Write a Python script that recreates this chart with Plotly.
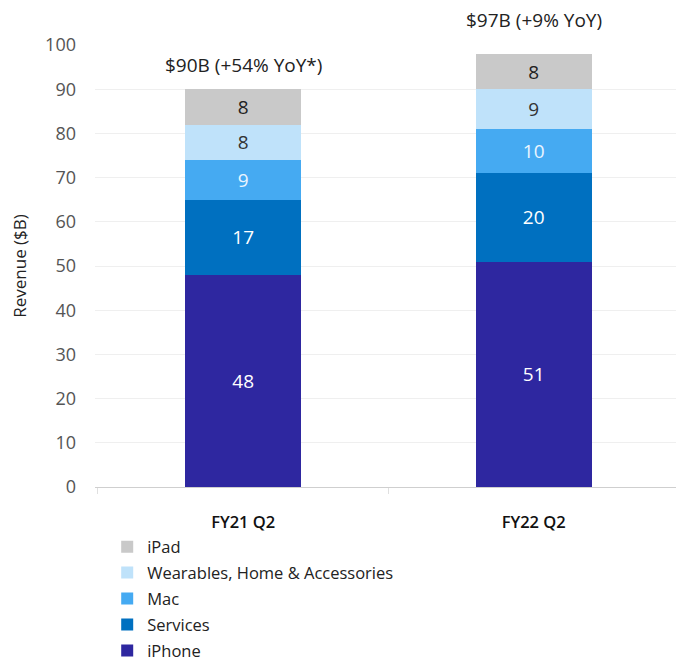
import plotly.graph_objects as go

categories = ["FY21 Q2", "FY22 Q2"]
series_names = ["iPhone", "Services", "Mac", "Wearables, Home & Accessories", "iPad"]
iphone = [48, 51]
services = [17, 20]
mac = [9, 10]
wearables = [8, 9]
ipad = [8, 8]
totals_text = ["$90B (+54% YoY*)", "$97B (+9% YoY)"]
y_ticks = [0, 10, 20, 30, 40, 50, 60, 70, 80, 90, 100]

series_values = [iphone, services, mac, wearables, ipad]
colors = ["#2E27A0", "#0070C0", "#45AAF2", "#BFE2FA", "#C9C9C9"]
text_colors = ["#FFFFFF", "#FFFFFF", "#EAF5FF", "#333333", "#222222"]

FONT = "Open Sans"

fig = go.Figure()
n = len(series_names)
for i, (name, vals, col, tc) in enumerate(zip(series_names, series_values, colors, text_colors)):
    fig.add_trace(go.Bar(
        x=categories, y=vals, name=name, legendgroup=name,
        legendrank=n - i,
        marker=dict(color=col, line=dict(width=0)),
        text=[str(v) for v in vals], textposition="inside",
        insidetextanchor="middle",
        textfont=dict(color=tc, size=19, family=FONT),
        width=0.4,
    ))

totals = [sum(v[i] for v in series_values) for i in range(len(categories))]
shifts = [24, 34]
for cat, tot, txt, sh in zip(categories, totals, totals_text, shifts):
    fig.add_annotation(x=cat, y=tot, text=txt, showarrow=False,
                       yanchor="middle", yshift=sh,
                       font=dict(size=19, color="#222222", family=FONT))

fig.update_layout(
    width=676, height=661,
    margin=dict(l=95, r=0, t=45, b=174, autoexpand=False),
    barmode="stack",
    plot_bgcolor="white", paper_bgcolor="white",
    font=dict(family=FONT, color="#333333"),
    uniformtext=dict(minsize=8, mode="show"),
    legend=dict(
        orientation="v", traceorder="grouped",
        x=0.021, xanchor="left", y=-0.096, yanchor="top",
        font=dict(size=16.5, color="#222222", family=FONT),
        tracegroupgap=1.5,
        bgcolor="rgba(0,0,0,0)",
    ),
    xaxis=dict(
        range=[-0.51, 1.49], automargin=False,
        showline=True, linecolor="#CFCFCF", linewidth=1,
        ticks="outside", tickson="boundaries", ticklen=6, tickcolor="#E0E0E0",
        tickfont=dict(size=16.5, color="#111111", family=FONT + " SemiBold"),
        ticklabelstandoff=20,
        showgrid=False,
    ),
    yaxis=dict(
        range=[0, 100], tickvals=y_ticks, automargin=False,
        showgrid=True, gridcolor="#EFEFEF", gridwidth=1,
        zeroline=False, showline=False,
        tickfont=dict(size=18, color="#555555", family=FONT),
        ticklabelstandoff=18,
        title=dict(text="Revenue ($B)", font=dict(size=17, color="#222222", family=FONT), standoff=14),
    ),
)

fig.write_html("out.html", config={"displayModeBar": False},
               post_script="document.body.style.margin='0';document.body.style.overflow='hidden';")
